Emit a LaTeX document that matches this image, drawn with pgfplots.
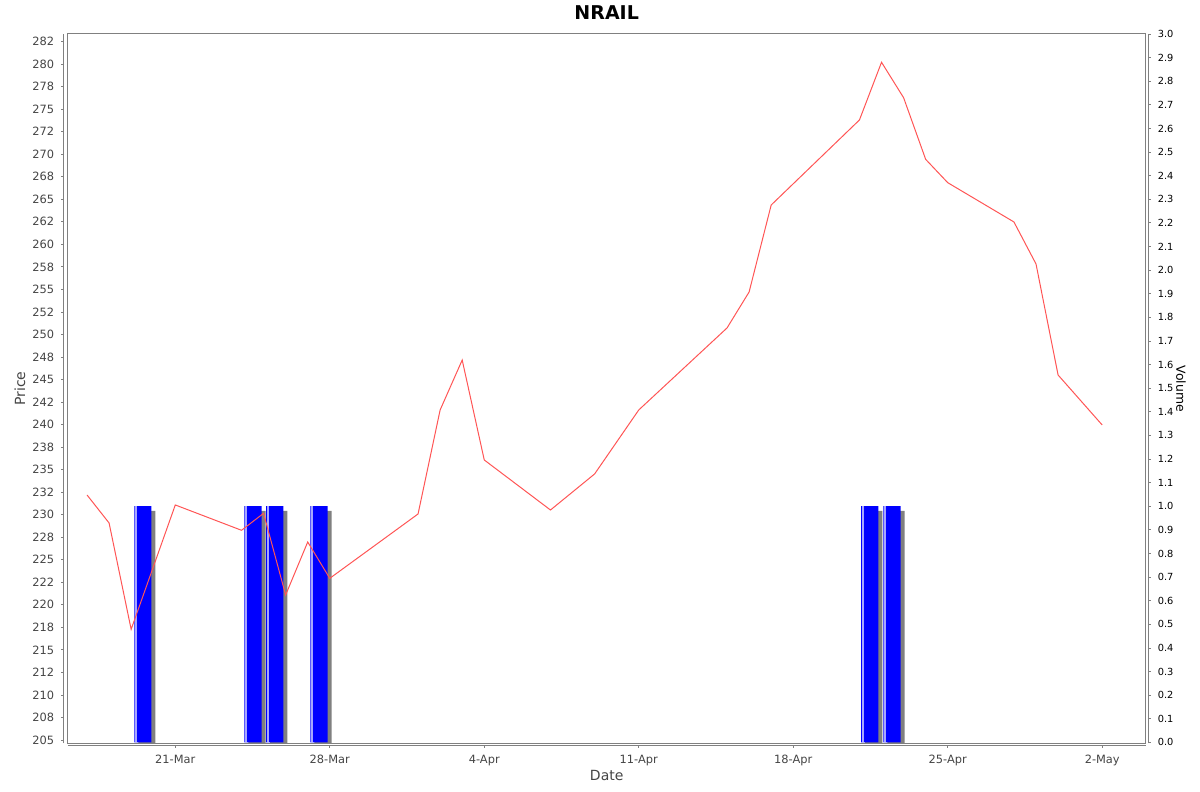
\documentclass[border=0pt]{standalone}
\usepackage{pgfplots}
\pgfplotsset{compat=1.18}
\usepackage{pgfplotstable}
\usepackage{fontspec}
\setmainfont{DejaVu Sans}

\definecolor{axgray}{RGB}{128,128,128}
\definecolor{lblgray}{RGB}{68,68,68}
\definecolor{priceRed}{RGB}{255,85,85}
\definecolor{volBlue}{RGB}{0,0,255}

% day 0 = 21-Mar
\pgfplotstableread{
day price
-4 232.19
-3 229.08
-2 217.28
0 231.08
3 228.27
4 230.15
5 221.09
6 226.97
7 222.94
11 230.08
12 241.62
13 247.16
14 236.07
17 230.52
19 234.52
21 241.62
25 250.72
26 254.71
27 264.36
31 273.80
32 280.20
33 276.27
34 269.43
35 266.84
38 262.48
39 257.82
40 245.50
42 239.95
}\pricetable

\pgfplotstableread{
day vol
-1.47 1.0
3.52 1.0
4.51 1.0
6.51 1.0
31.47 1.0
32.47 1.0
}\voltable

\begin{document}
\begin{tikzpicture}
\useasboundingbox (0,0) rectangle (600pt,396pt);
\pgfplotsset{
  every axis/.append style={
    scale only axis, width=539pt, height=354.65pt,
    at={(33.85pt,24.35pt)}, anchor=south west,
    xmin=-4.875, xmax=43.97,
    tick align=outside, major tick length=1pt,
    axis line style={draw=axgray},
    every tick/.style={draw=axgray},
  }
}

% volume (right axis)
\begin{axis}[
  ymin=-0.004, ymax=3.0,
  axis x line=none,
  axis y line*=right,
  axis y line shift=1.5pt,
  ytick distance=0.1,
  minor tick num=0,
  yticklabel style={font=\fontsize{4.9}{5}\selectfont, text=black,
    /pgf/number format/.cd, fixed, fixed zerofill, precision=1, assume math mode=true},
  ylabel={Volume},
  every axis y label/.style={at={(axis description cs:1.0327,0.5)}, rotate=-90, anchor=center,
    font=\fontsize{6.2}{7}\selectfont, text=black},
]
\addplot[ybar, bar width=8.6pt, bar shift=2pt, yshift=-2.3pt, fill=axgray, draw=none] table[x=day, y=vol] {\voltable};
\addplot[ybar, bar width=8.6pt, bar shift=0pt, fill=volBlue, draw=none] table[x=day, y=vol] {\voltable};
\addplot[ybar, bar width=0.6pt, bar shift=-3.45pt, fill=white, draw=none] table[x=day, y=vol] {\voltable};
\end{axis}

% price (left axis)
\begin{axis}[
  ymin=204.634, ymax=283.34,
  axis x line*=bottom, axis y line*=left,
  axis x line shift=1.2pt, axis y line shift=2.2pt,
  xtick={0,7,14,21,28,35,42},
  xticklabels={21-Mar,28-Mar,4-Apr,11-Apr,18-Apr,25-Apr,2-May},
  ytick={205,207.5,210,212.5,215,217.5,220,222.5,225,227.5,230,232.5,235,237.5,240,242.5,
         245,247.5,250,252.5,255,257.5,260,262.5,265,267.5,270,272.5,275,277.5,280,282.5},
  yticklabels={205,208,210,212,215,218,220,222,225,228,230,232,235,238,240,242,
               245,248,250,252,255,258,260,262,265,268,270,272,275,278,280,282},
  tick label style={font=\fontsize{5.7}{6}\selectfont, text=lblgray},
  title={NRAIL},
  every axis title/.style={at={(axis description cs:0.5,1)}, anchor=center, yshift=10.5pt,
    font=\bfseries\fontsize{9.5}{11}\selectfont},
  xlabel={Date}, ylabel={Price},
  every axis x label/.style={at={(axis description cs:0.5,-0.0461)}, anchor=center,
    font=\fontsize{7}{8}\selectfont, text=lblgray},
  every axis y label/.style={at={(axis description cs:-0.04425,0.5)}, rotate=90, anchor=center,
    font=\fontsize{7}{8}\selectfont, text=lblgray},
  after end axis/.code={\draw[axgray, line width=0.5pt] (rel axis cs:0,0) rectangle (rel axis cs:1,1);},
]
\addplot[priceRed, line width=0.5pt, mark=none] table[x=day, y=price] {\pricetable};
\end{axis}
\end{tikzpicture}
\end{document}
